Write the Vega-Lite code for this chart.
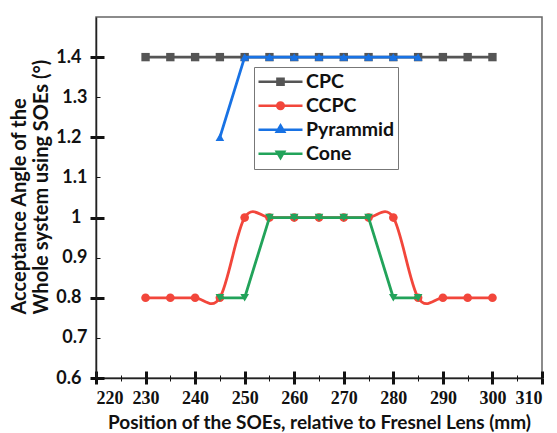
{
  "$schema": "https://vega.github.io/schema/vega-lite/v6.json",
  "width": 446,
  "height": 361,
  "autosize": "none",
  "padding": {"left": 96, "top": 17, "right": 15, "bottom": 55},
  "background": "white",
  "config": {
    "view": {"stroke": "#666666", "strokeWidth": 1.5}
  },
  "data": {
    "values": [
      {"series": "CPC", "x": 230, "y": 1.4}, {"series": "CPC", "x": 235, "y": 1.4}, {"series": "CPC", "x": 240, "y": 1.4}, {"series": "CPC", "x": 245, "y": 1.4}, {"series": "CPC", "x": 250, "y": 1.4}, {"series": "CPC", "x": 255, "y": 1.4}, {"series": "CPC", "x": 260, "y": 1.4}, {"series": "CPC", "x": 265, "y": 1.4}, {"series": "CPC", "x": 270, "y": 1.4}, {"series": "CPC", "x": 275, "y": 1.4}, {"series": "CPC", "x": 280, "y": 1.4}, {"series": "CPC", "x": 285, "y": 1.4}, {"series": "CPC", "x": 290, "y": 1.4}, {"series": "CPC", "x": 295, "y": 1.4}, {"series": "CPC", "x": 300, "y": 1.4},
      {"series": "CCPC", "x": 230, "y": 0.8}, {"series": "CCPC", "x": 235, "y": 0.8}, {"series": "CCPC", "x": 240, "y": 0.8}, {"series": "CCPC", "x": 245, "y": 0.8}, {"series": "CCPC", "x": 250, "y": 1.0}, {"series": "CCPC", "x": 255, "y": 1.0}, {"series": "CCPC", "x": 260, "y": 1.0}, {"series": "CCPC", "x": 265, "y": 1.0}, {"series": "CCPC", "x": 270, "y": 1.0}, {"series": "CCPC", "x": 275, "y": 1.0}, {"series": "CCPC", "x": 280, "y": 1.0}, {"series": "CCPC", "x": 285, "y": 0.8}, {"series": "CCPC", "x": 290, "y": 0.8}, {"series": "CCPC", "x": 295, "y": 0.8}, {"series": "CCPC", "x": 300, "y": 0.8},
      {"series": "Pyrammid", "x": 245, "y": 1.2}, {"series": "Pyrammid", "x": 250, "y": 1.4}, {"series": "Pyrammid", "x": 255, "y": 1.4}, {"series": "Pyrammid", "x": 260, "y": 1.4}, {"series": "Pyrammid", "x": 265, "y": 1.4}, {"series": "Pyrammid", "x": 270, "y": 1.4}, {"series": "Pyrammid", "x": 275, "y": 1.4}, {"series": "Pyrammid", "x": 280, "y": 1.4}, {"series": "Pyrammid", "x": 285, "y": 1.4},
      {"series": "Cone", "x": 245, "y": 0.8}, {"series": "Cone", "x": 250, "y": 0.8}, {"series": "Cone", "x": 255, "y": 1.0}, {"series": "Cone", "x": 260, "y": 1.0}, {"series": "Cone", "x": 265, "y": 1.0}, {"series": "Cone", "x": 270, "y": 1.0}, {"series": "Cone", "x": 275, "y": 1.0}, {"series": "Cone", "x": 280, "y": 0.8}, {"series": "Cone", "x": 285, "y": 0.8}
    ]
  },
  "resolve": {"axis": {"x": "independent", "y": "independent"}},
  "layer": [
    {
      "transform": [{"filter": "datum.series === 'CPC'"}],
      "mark": {"type": "line", "strokeWidth": 2.8},
      "encoding": {
        "x": {
          "field": "x", "type": "quantitative",
          "scale": {"domain": [220, 310], "nice": false, "zero": false},
          "axis": {
            "values": [220, 225, 230, 235, 240, 245, 250, 255, 260, 265, 270, 275, 280, 285, 290, 295, 300, 305, 310],
            "labelExpr": "datum.value % 10 == 0 ? datum.label : ''",
            "labelOverlap": false,
            "grid": false,
            "domainColor": "#222222", "domainWidth": 1.5,
            "tickColor": "#111111",
            "tickWidth": {"condition": {"test": "datum.value % 10 == 0", "value": 3}, "value": 1},
            "tickSize": {"condition": {"test": "datum.value % 10 == 0", "value": 6}, "value": 3},
            "labelFont": "Liberation Serif", "labelFontSize": 18, "labelFontWeight": "bold", "labelColor": "#111111",
            "labelPadding": 5,
            "title": "Position of the SOEs, relative to Fresnel Lens (mm)",
            "titleFont": "Lato", "titleFontSize": 19, "titleFontWeight": "bold", "titleColor": "#111111",
            "titlePadding": 6
          }
        },
        "y": {
          "field": "y", "type": "quantitative",
          "scale": {"domain": [0.6, 1.5], "nice": false, "zero": false},
          "axis": {
            "values": [0.6, 0.7, 0.8, 0.9, 1.0, 1.1, 1.2, 1.3, 1.4],
            "labelExpr": "format(datum.value, '~g')",
            "labelOverlap": false,
            "grid": false,
            "domainColor": "#222222", "domainWidth": 1.5,
            "tickColor": "#111111",
            "tickWidth": {"condition": {"test": "round(datum.value*10) % 2 == 0", "value": 3}, "value": 1},
            "tickSize": {"condition": {"test": "round(datum.value*10) % 2 == 0", "value": 6}, "value": 0.01},
            "labelFont": "Lato", "labelFontSize": 18, "labelFontWeight": "bold", "labelColor": "#111111",
            "labelPadding": 9,
            "title": ["Acceptance Angle of the", "Whole system using SOEs (°)"],
            "titleFont": "Lato", "titleFontSize": 20, "titleFontWeight": "bold", "titleColor": "#111111",
            "titleAngle": -90, "titleAlign": "left", "titleBaseline": "top",
            "titleX": -87, "titleY": 297, "titleLineHeight": 22
          }
        },
        "color": {
          "field": "series", "type": "nominal",
          "scale": {"domain": ["CPC", "CCPC", "Pyrammid", "Cone"], "range": ["#555555", "#f2463b", "#1872e4", "#22a35a"]},
          "legend": {
            "orient": "none", "legendX": 158, "legendY": 50,
            "title": null,
            "padding": 3,
            "strokeColor": "#777777", "fillColor": "white",
            "labelFont": "Lato", "labelFontSize": 19.5, "labelFontWeight": "bold", "labelColor": "#111111",
            "labelOffset": 2,
            "symbolSize": 1936,
            "clipHeight": 23.5,
            "rowPadding": 0,
            "symbolStrokeWidth": 2.5,
            "encode": {
              "symbols": {
                "update": {
                  "shape": {"signal": "datum.value === 'CPC' ? 'M-1,0H1M-0.14,-0.14H0.14V0.14H-0.14Z' : datum.value === 'CCPC' ? 'M-1,0H1M-0.15,0A0.15,0.15 0 1,0 0.15,0A0.15,0.15 0 1,0 -0.15,0Z' : datum.value === 'Pyrammid' ? 'M-1,0H1M0,-0.2L0.17,0.09H-0.17Z' : 'M-1,0H1M0,0.2L0.17,-0.09H-0.17Z'"},
                  "fill": {"scale": "color", "field": "value"},
                  "stroke": {"scale": "color", "field": "value"},
                  "fillOpacity": {"value": 1},
                  "opacity": {"value": 1}
                }
              }
            }
          }
        }
      }
    },
    {
      "transform": [{"filter": "datum.series === 'CPC'"}],
      "mark": {"type": "point", "shape": "square", "filled": true, "opacity": 1, "size": 70},
      "encoding": {
        "x": {"field": "x", "type": "quantitative", "axis": null},
        "y": {"field": "y", "type": "quantitative", "axis": null},
        "color": {"field": "series", "type": "nominal"}
      }
    },
    {
      "transform": [{"filter": "datum.series === 'CCPC'"}],
      "mark": {"type": "line", "strokeWidth": 2.8, "interpolate": "cardinal"},
      "encoding": {
        "x": {"field": "x", "type": "quantitative", "axis": null},
        "y": {"field": "y", "type": "quantitative", "axis": null},
        "color": {"field": "series", "type": "nominal"}
      }
    },
    {
      "transform": [{"filter": "datum.series === 'CCPC'"}],
      "mark": {"type": "point", "shape": "circle", "filled": true, "opacity": 1, "size": 75},
      "encoding": {
        "x": {"field": "x", "type": "quantitative", "axis": null},
        "y": {"field": "y", "type": "quantitative", "axis": null},
        "color": {"field": "series", "type": "nominal"}
      }
    },
    {
      "transform": [{"filter": "datum.series === 'Pyrammid'"}],
      "mark": {"type": "line", "strokeWidth": 2.8},
      "encoding": {
        "x": {"field": "x", "type": "quantitative", "axis": null},
        "y": {"field": "y", "type": "quantitative", "axis": null},
        "color": {"field": "series", "type": "nominal"}
      }
    },
    {
      "transform": [{"filter": "datum.series === 'Pyrammid'"}],
      "mark": {"type": "point", "shape": "triangle-up", "filled": true, "opacity": 1, "size": 75},
      "encoding": {
        "x": {"field": "x", "type": "quantitative", "axis": null},
        "y": {"field": "y", "type": "quantitative", "axis": null},
        "color": {"field": "series", "type": "nominal"}
      }
    },
    {
      "transform": [{"filter": "datum.series === 'Cone'"}],
      "mark": {"type": "line", "strokeWidth": 2.8},
      "encoding": {
        "x": {"field": "x", "type": "quantitative", "axis": null},
        "y": {"field": "y", "type": "quantitative", "axis": null},
        "color": {"field": "series", "type": "nominal"}
      }
    },
    {
      "transform": [{"filter": "datum.series === 'Cone'"}],
      "mark": {"type": "point", "shape": "triangle-down", "filled": true, "opacity": 1, "size": 75},
      "encoding": {
        "x": {
          "field": "x", "type": "quantitative",
          "axis": {
            "orient": "bottom",
            "values": [220, 225, 230, 235, 240, 245, 250, 255, 260, 265, 270, 275, 280, 285, 290, 295, 300, 305, 310],
            "labels": false, "domain": false, "grid": false, "title": null,
            "tickColor": "#111111",
            "tickWidth": {"condition": {"test": "datum.value % 10 == 0", "value": 3}, "value": 1},
            "tickSize": {"condition": {"test": "datum.value % 10 == 0", "value": -7}, "value": -3}
          }
        },
        "y": {
          "field": "y", "type": "quantitative",
          "axis": {
            "orient": "left",
            "values": [0.6, 0.7, 0.8, 0.9, 1.0, 1.1, 1.2, 1.3, 1.4],
            "labels": false, "domain": false, "grid": false, "title": null,
            "tickColor": "#111111",
            "tickWidth": {"condition": {"test": "round(datum.value*10) % 2 == 0", "value": 3}, "value": 1},
            "tickSize": {"condition": {"test": "round(datum.value*10) % 2 == 0", "value": -8}, "value": -4}
          }
        },
        "color": {"field": "series", "type": "nominal"}
      }
    }
  ]
}
